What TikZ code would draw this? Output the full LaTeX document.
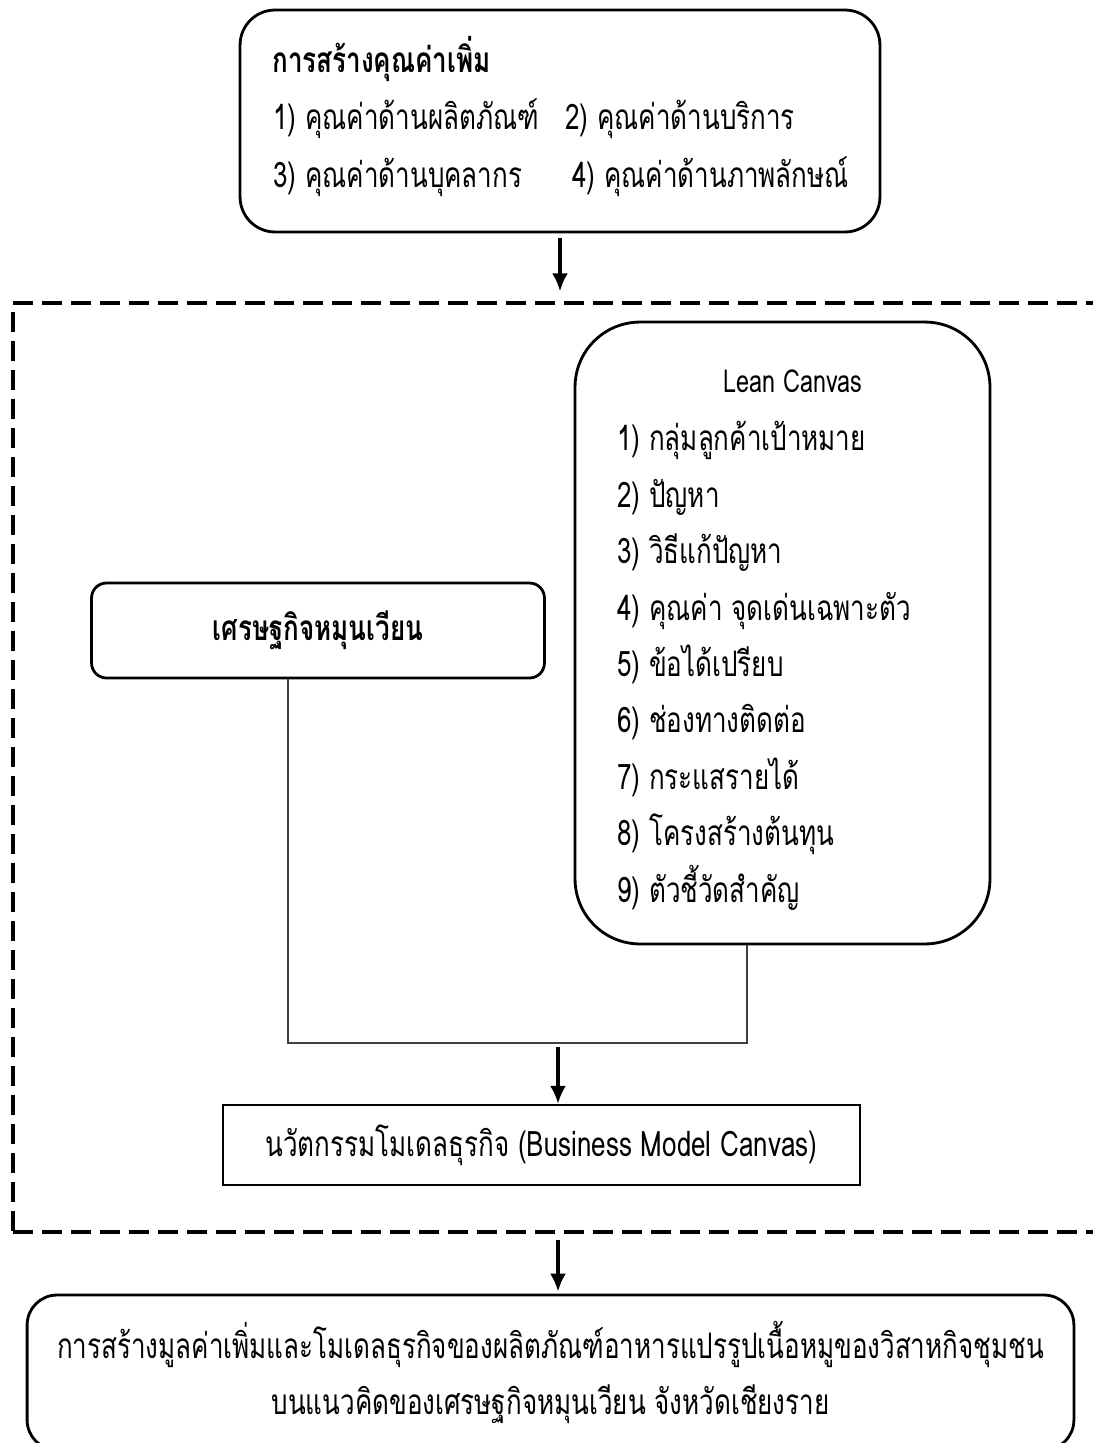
\documentclass[tikz,border=0pt]{standalone}
\usepackage{graphicx}
\usepackage{fontspec}
\setmainfont[Script=Thai]{Loma}
\usetikzlibrary{arrows.meta,positioning}

% texte un peu resserré
\newcommand{\sq}[1]{\scalebox{0.74}[1]{#1}}

\begin{document}
\begin{tikzpicture}[x=0.02cm,y=-0.02cm,>={Latex[length=0.36cm,width=0.32cm]},
  roundbox/.style={draw,line width=1.6pt,inner sep=0pt},
  flatbox/.style={draw,line width=1.3pt,inner sep=0pt},
  txt/.style={inner sep=0pt,font=\fontsize{20}{32.1}\selectfont},
  link/.style={draw=black!75,line width=0.9pt},
  flow/.style={->,line width=1.9pt}]

\useasboundingbox (0,0) rectangle (1092,1443);

% Cadre pointillé
\node[draw,dash pattern=on 0.4cm off 0.18cm,line width=1.9pt,inner sep=0pt,
minimum width=21.94cm,minimum height=18.58cm] (frame) at (561.5,767.5) {};

% Boîte du haut
\node[roundbox,rounded corners=0.7cm,minimum width=12.8cm,minimum height=4.44cm]
(value) at (560,121) {};
\node[txt,anchor=base west] (valuehead) at (272,72) {\sq{\bfseries การสร้างคุณค่าเพิ่ม}};
\node[txt,anchor=base west] (valueA) at (273,130) {\sq{1) คุณค่าด้านผลิตภัณฑ์}};
\node[txt,anchor=base west] (valueB) at (565,130) {\sq{2) คุณค่าด้านบริการ}};
\node[txt,anchor=base west] (valueC) at (273,187) {\sq{3) คุณค่าด้านบุคลากร}};
\node[txt,anchor=base west] (valueD) at (572,187) {\sq{4) คุณค่าด้านภาพลักษณ์}};

% Lean Canvas
\node[roundbox,rounded corners=1.3cm,minimum width=8.3cm,minimum height=12.44cm]
(lean) at (782.5,633) {};
\node[txt,anchor=base,font=\fontsize{18}{20}\selectfont] (leanhead) at (793,392)
{\sq{Lean Canvas}};
\node[txt,anchor=base west,align=left] (leanlist) at (617,902)
{\sq{1) กลุ่มลูกค้าเป้าหมาย}\\
\sq{2) ปัญหา}\\
\sq{3) วิธีแก้ปัญหา}\\
\sq{4) คุณค่า จุดเด่นเฉพาะตัว}\\
\sq{5) ข้อได้เปรียบ}\\
\sq{6) ช่องทางติดต่อ}\\
\sq{7) กระแสรายได้}\\
\sq{8) โครงสร้างต้นทุน}\\
\sq{9) ตัวชี้วัดสำคัญ}};

% Boîte de gauche
\node[roundbox,rounded corners=0.3cm,minimum width=9.06cm,minimum height=1.9cm,
font=\fontsize{20}{32.1}\selectfont] (circ) at (318,630.5)
{\sq{\bfseries เศรษฐกิจหมุนเวียน}};

% Boîte du milieu
\node[flatbox,minimum width=12.74cm,minimum height=1.6cm,
font=\fontsize{20}{32.1}\selectfont] (business) at (541.5,1145)
{\sq{นวัตกรรมโมเดลธุรกิจ (Business Model Canvas)}};

% Boîte du bas
\node[roundbox,rounded corners=0.6cm,minimum width=20.94cm,minimum height=3.1cm,
align=center,font=\fontsize{20}{32.1}\selectfont] (result) at (550.5,1372.5)
{\sq{การสร้างมูลค่าเพิ่มและโมเดลธุรกิจของผลิตภัณฑ์อาหารแปรรูปเนื้อหมูของวิสาหกิจชุมชน}\\
\sq{บนแนวคิดของเศรษฐกิจหมุนเวียน จังหวัดเชียงราย}};

% Points de jonction
\coordinate (join) at (558,1043);
\coordinate (circfoot) at ([xshift=-0.6cm]circ.south);
\coordinate (leanfoot) at ([xshift=-0.71cm]lean.south);

% Liaisons
\draw[link] (circfoot) |- (leanfoot |- join) -- (leanfoot);

% Flèches
\draw[flow,shorten <=0.1cm,shorten >=0.2cm] (value.south) -- (value.south |- frame.north);
\draw[flow,shorten <=0.08cm] (join) -- (join |- business.north);
\draw[flow,shorten <=0.12cm,shorten >=0.04cm] (frame.south -| join) -- (join |- result.north);

\end{tikzpicture}
\end{document}
